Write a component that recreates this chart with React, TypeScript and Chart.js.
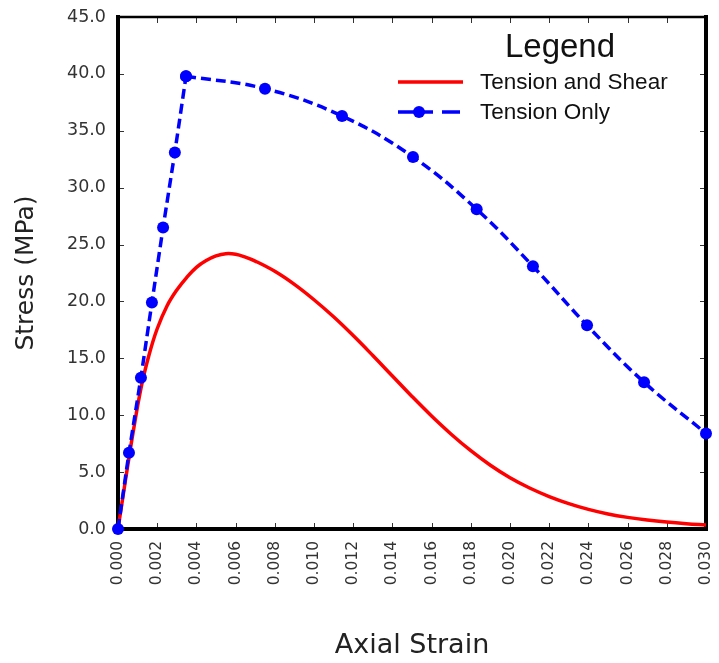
import React, { useEffect, useRef } from "react";
import { Chart, registerables } from "chart.js";

Chart.register(...registerables);

// Tension and Shear (red, smooth curve)
const redStrain = [0, 0.0004, 0.0008, 0.0012, 0.0016, 0.002, 0.0025, 0.003, 0.0035, 0.004, 0.0045, 0.005, 0.0055, 0.006, 0.0065, 0.007, 0.008, 0.009, 0.010, 0.011, 0.012, 0.013, 0.014, 0.015, 0.016, 0.017, 0.018, 0.019, 0.020, 0.021, 0.022, 0.023, 0.024, 0.025, 0.026, 0.027, 0.028, 0.029, 0.030];
const redStress = [0, 4.5, 8.8, 12.6, 15.4, 17.6, 19.6, 21.0, 22.1, 23.0, 23.6, 24.0, 24.2, 24.15, 23.9, 23.55, 22.65, 21.5, 20.15, 18.65, 17.0, 15.25, 13.45, 11.65, 9.93, 8.33, 6.88, 5.6, 4.5, 3.6, 2.85, 2.23, 1.72, 1.32, 1.02, 0.79, 0.61, 0.47, 0.36];

// Tension Only (blue, dashed with markers)
const blueStrain = [0, 0.00056, 0.00117, 0.00173, 0.0023, 0.0029, 0.00347, 0.0075, 0.01143, 0.01505, 0.0183, 0.02117, 0.02393, 0.02684, 0.030];
const blueStress = [0, 6.7, 13.3, 19.9, 26.5, 33.1, 39.8, 38.7, 36.3, 32.7, 28.1, 23.1, 17.9, 12.9, 8.4];
const bluePeakIndex = 6; // linear rise up to here, smooth softening after

const seriesNames = ["Tension and Shear", "Tension Only"];
const legendTitle = "Legend";
const xTitle = "Axial Strain";
const yTitle = "Stress (MPa)";
const xMin = 0, xMax = 0.03, xStep = 0.002;
const yMin = 0, yMax = 45, yStep = 5;

const RED = "#ff0000";
const BLUE = "#0000ff";

const framePlugin = {
  id: "frame",
  beforeDatasetsDraw(chart: any) {
    const { ctx, chartArea } = chart;
    const { left, right, top, bottom } = chartArea;
    const xs = chart.scales.x;
    const ys = chart.scales.y;
    ctx.save();
    ctx.strokeStyle = "#333";
    ctx.lineWidth = 1;
    ctx.beginPath();
    xs.ticks.forEach((t: any) => {
      const px = Math.round(xs.getPixelForValue(t.value)) + 0.5;
      ctx.moveTo(px, bottom);
      ctx.lineTo(px, bottom - 6);
      ctx.moveTo(px, top);
      ctx.lineTo(px, top + 6);
    });
    ys.ticks.forEach((t: any) => {
      const py = Math.round(ys.getPixelForValue(t.value)) + 0.5;
      ctx.moveTo(left, py);
      ctx.lineTo(left + 6, py);
      ctx.moveTo(right, py);
      ctx.lineTo(right - 6, py);
    });
    ctx.stroke();
    ctx.strokeStyle = "#000";
    ctx.lineCap = "square";
    ctx.lineWidth = 2.5;
    ctx.beginPath();
    ctx.moveTo(left, top);
    ctx.lineTo(right, top);
    ctx.stroke();
    ctx.lineWidth = 4;
    ctx.beginPath();
    ctx.moveTo(left, top);
    ctx.lineTo(left, bottom);
    ctx.lineTo(right, bottom);
    ctx.lineTo(right, top);
    ctx.stroke();
    ctx.restore();
  },
};

const legendPlugin = {
  id: "customLegend",
  afterDraw(chart: any) {
    const { ctx } = chart;
    ctx.save();
    ctx.fillStyle = "#111";
    ctx.textBaseline = "middle";
    ctx.textAlign = "center";
    ctx.font = "33px 'Liberation Sans', Arial, sans-serif";
    ctx.fillText(legendTitle, 560, 48);
    ctx.textAlign = "left";
    ctx.font = "22.5px 'Liberation Sans', Arial, sans-serif";
    // red item
    ctx.strokeStyle = RED;
    ctx.lineWidth = 3.5;
    ctx.beginPath();
    ctx.moveTo(398, 82);
    ctx.lineTo(463, 82);
    ctx.stroke();
    ctx.fillStyle = "#111";
    ctx.fillText(seriesNames[0], 480, 83);
    // blue item
    ctx.strokeStyle = BLUE;
    ctx.beginPath();
    ctx.moveTo(398, 112);
    ctx.lineTo(433, 112);
    ctx.moveTo(442, 112);
    ctx.lineTo(460, 112);
    ctx.stroke();
    ctx.fillStyle = BLUE;
    ctx.beginPath();
    ctx.arc(419, 112, 6, 0, Math.PI * 2);
    ctx.fill();
    ctx.fillStyle = "#111";
    ctx.fillText(seriesNames[1], 480, 113);
    ctx.restore();
  },
};

export default function App() {
  const ref = useRef<HTMLCanvasElement | null>(null);
  useEffect(() => {
    if (!ref.current) return;
    const bluePts = blueStrain.map((x, i) => ({ x, y: blueStress[i] }));
    const blueCommon = {
      label: seriesNames[1],
      borderColor: BLUE,
      backgroundColor: BLUE,
      pointBackgroundColor: BLUE,
      pointBorderColor: BLUE,
      pointRadius: 6,
      pointBorderWidth: 0,
      borderWidth: 3.5,
      borderDash: [10, 5],
      clip: false,
      order: 0,
    };
    const chart = new Chart(ref.current, {
      type: "line",
      data: {
        datasets: [
          {
            ...blueCommon,
            data: bluePts.slice(0, bluePeakIndex + 1),
            tension: 0,
          } as any,
          {
            ...blueCommon,
            data: bluePts.slice(bluePeakIndex),
            tension: 0.4,
          } as any,
          {
            label: seriesNames[0],
            data: redStrain.map((x, i) => ({ x, y: redStress[i] })),
            borderColor: RED,
            backgroundColor: RED,
            pointRadius: 0,
            borderWidth: 3.5,
            tension: 0.4,
            clip: false,
            order: 1,
          } as any,
        ],
      },
      options: {
        animation: false,
        responsive: false,
        layout: { padding: { top: 17, right: 13, left: 0, bottom: 0 } },
        plugins: { legend: { display: false }, tooltip: { enabled: false } },
        scales: {
          x: {
            type: "linear",
            min: xMin,
            max: xMax,
            afterFit: (s: any) => { s.height = 134; s.paddingLeft = 0; s.paddingRight = 0; },
            grid: { display: false, drawTicks: false },
            border: { display: false },
            ticks: {
              stepSize: xStep,
              autoSkip: false,
              minRotation: 90,
              maxRotation: 90,
              padding: 12,
              color: "#333",
              font: { family: "'DejaVu Sans', sans-serif", size: 15.5 },
              callback: (v: any) => Number(v).toFixed(3),
            },
            title: {
              display: true,
              text: xTitle,
              color: "#222",
              font: { family: "'DejaVu Sans', sans-serif", size: 27 },
              padding: { top: 0, bottom: 1 },
            },
          },
          y: {
            type: "linear",
            min: yMin,
            max: yMax,
            afterFit: (s: any) => { s.width = 118; s.paddingTop = 0; s.paddingBottom = 0; },
            grid: { display: false, drawTicks: false },
            border: { display: false },
            ticks: {
              stepSize: yStep,
              padding: 12,
              color: "#333",
              font: { family: "'DejaVu Sans', sans-serif", size: 17.5 },
              callback: (v: any) => Number(v).toFixed(1),
            },
            title: {
              display: true,
              text: yTitle,
              color: "#222",
              font: { family: "'DejaVu Sans', sans-serif", size: 25 },
              padding: { top: 11, bottom: 0 },
            },
          },
        },
      },
      plugins: [framePlugin, legendPlugin],
    });
    return () => chart.destroy();
  }, []);
  return (
    <div style={{ position: "absolute", left: 0, top: 0, width: 719, height: 663, background: "#fff" }}>
      <canvas ref={ref} width={719} height={663} style={{ display: "block" }} />
    </div>
  );
}
